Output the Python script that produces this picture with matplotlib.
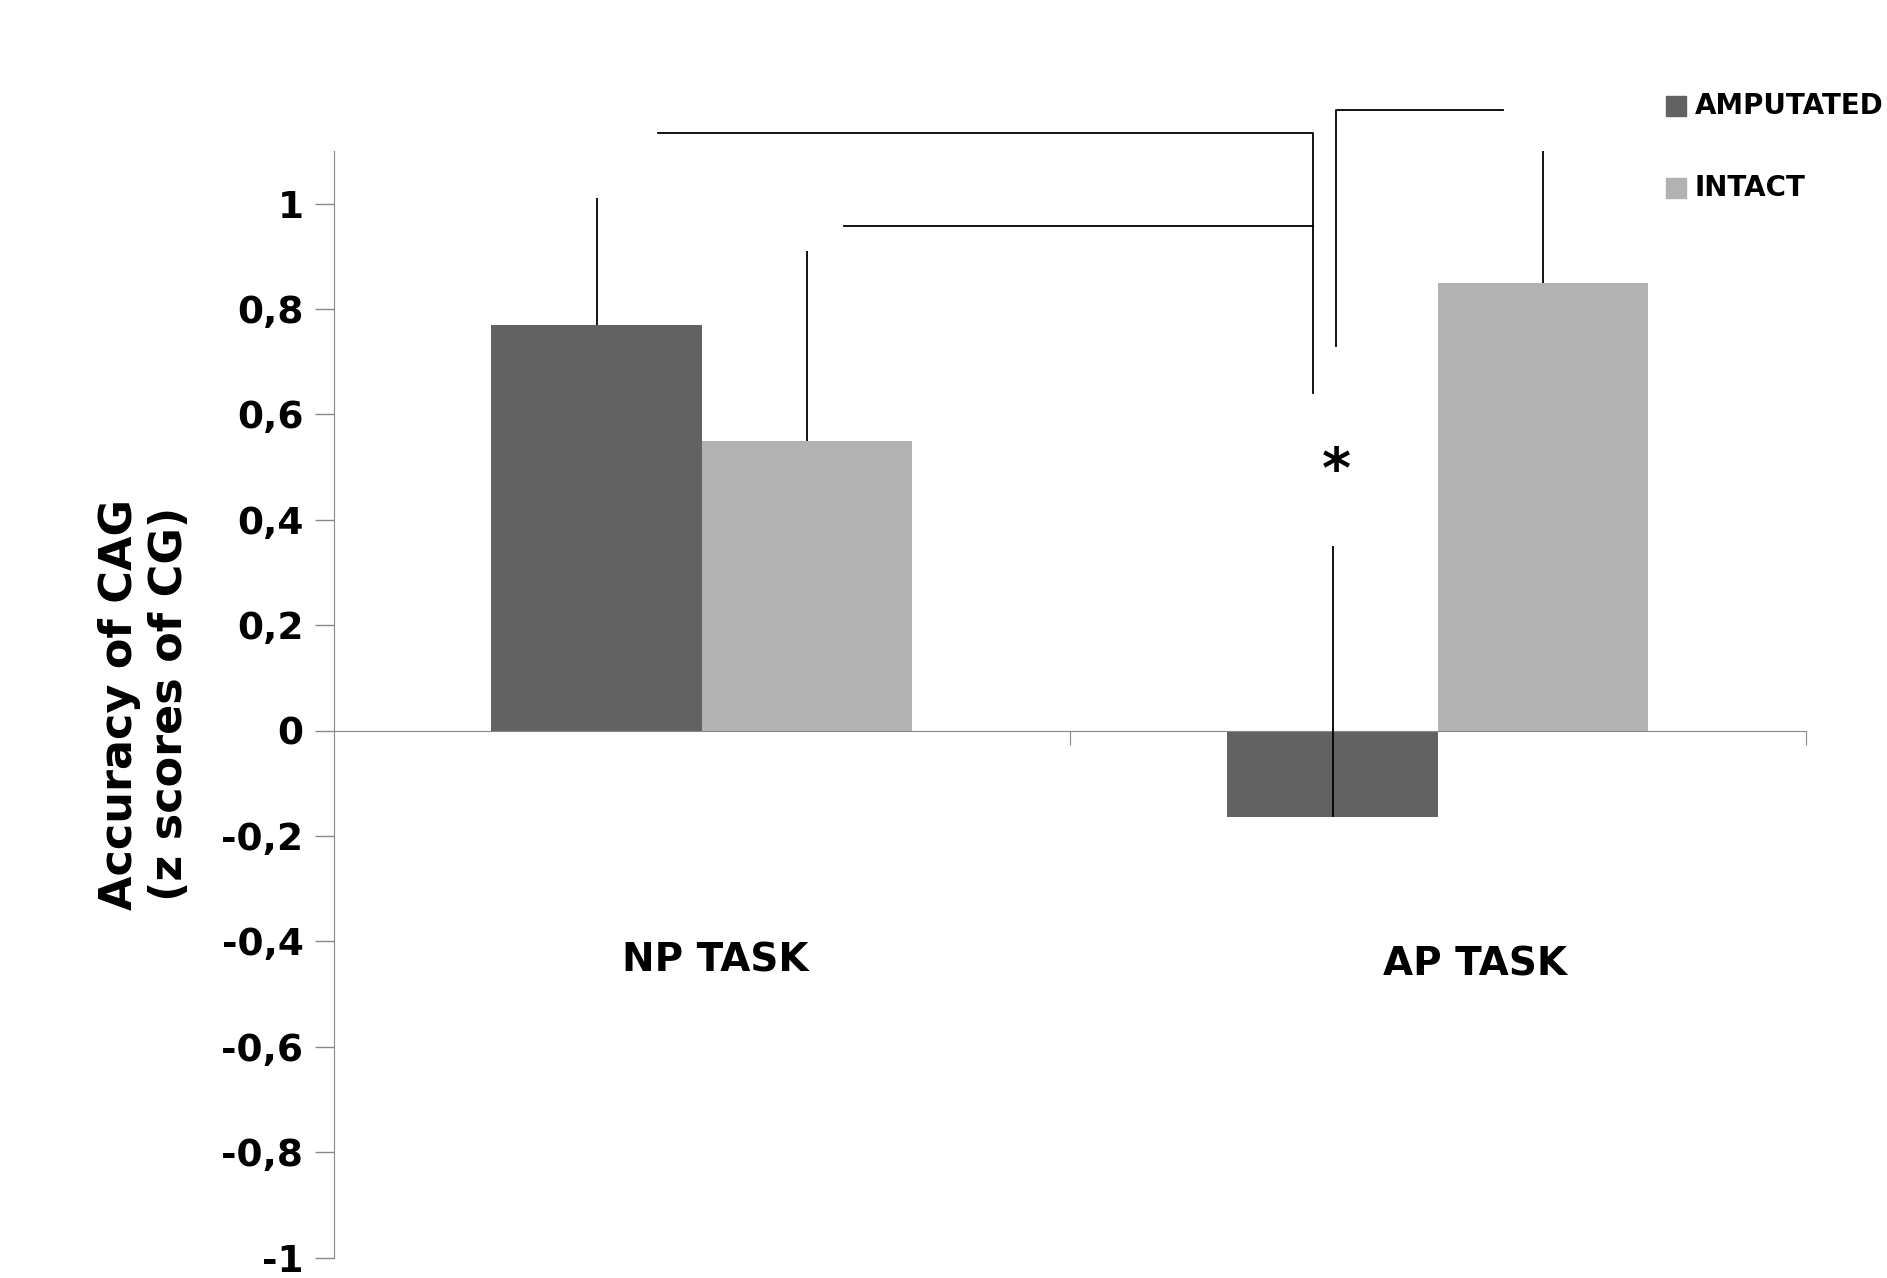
import matplotlib
matplotlib.use("Agg")
import matplotlib.pyplot as plt
import numpy as np

plt.rcParams['font.family'] = ['DejaVu Sans']
plt.rcParams['font.weight'] = 'bold'

categories = ["NP TASK", "AP TASK"]
series = ["AMPUTATED", "INTACT"]
amputee = [0.77, -0.165]
intact = [0.55, 0.85]
amputee_err = [0.24, 0.515]
intact_err = [0.36, 0.25]
yticks = [-1, -0.8, -0.6, -0.4, -0.2, 0, 0.2, 0.4, 0.6, 0.8, 1]

fig = plt.figure(figsize=(18.87, 12.78), dpi=100)
ax = fig.add_axes([0.177, 0.016, 0.78, 0.866])
centers = np.array([0.5, 1.5])
w = 0.286
dark, light = '#626262', '#b2b2b2'
ax.bar(centers - w/2, amputee, w, color=dark, zorder=2)
ax.bar(centers + w/2, intact, w, color=light, zorder=2)
ec = dict(ecolor='black', elinewidth=1.3, capsize=0, fmt='none', zorder=3)
ax.errorbar(centers - w/2, amputee, yerr=[[0, 0], amputee_err], **ec)
ax.errorbar(centers + w/2, intact, yerr=[[0, 0], intact_err], **ec)

ax.set_xlim(0, 2)
ax.set_ylim(-1, 1.1)
ax.set_yticks(yticks)
ax.set_yticklabels([('%g' % v).replace('.', ',') for v in yticks], fontsize=27, fontweight='bold')
ax.tick_params(axis='y', length=14, width=1, color='#888888', pad=8)
ax.spines['left'].set_color('#888888')
for s in ['top', 'right']:
    ax.spines[s].set_visible(False)
ax.spines['bottom'].set_position(('data', 0))
ax.spines['bottom'].set_color('#888888')
ax.set_xticks([1, 2])
ax.set_xticklabels([])
ax.tick_params(axis='x', length=10, color='#888888', direction='out')
ax.set_ylabel("Accuracy of CAG\n(z scores of CG)", fontsize=32, fontweight='bold', labelpad=22)

ax.text(0.518, -0.437, categories[0], fontsize=28, fontweight='bold', ha='center', va='center')
ax.text(1.55, -0.444, categories[1], fontsize=28, fontweight='bold', ha='center', va='center')

lk = dict(color='black', lw=1.3, clip_on=False)
ax.plot([0.44, 1.33, 1.33], [1.133, 1.133, 0.641], **lk)
ax.plot([0.693, 1.33], [0.957, 0.957], **lk)
ax.plot([1.362, 1.362, 1.588], [0.730, 1.178, 1.178], **lk)
ax.text(1.362, 0.49, '*', fontsize=40, fontweight='bold', ha='center', va='center')

for i, (lab, c) in enumerate(zip(series, [dark, light])):
    y = 0.917 - i * 0.064
    fig.patches.append(plt.Rectangle((0.883, y - 0.008), 0.0105, 0.0155, color=c, transform=fig.transFigure))
    fig.text(0.898, y, lab, fontsize=20, fontweight='bold', va='center')

fig.savefig('out.png', dpi=100)
